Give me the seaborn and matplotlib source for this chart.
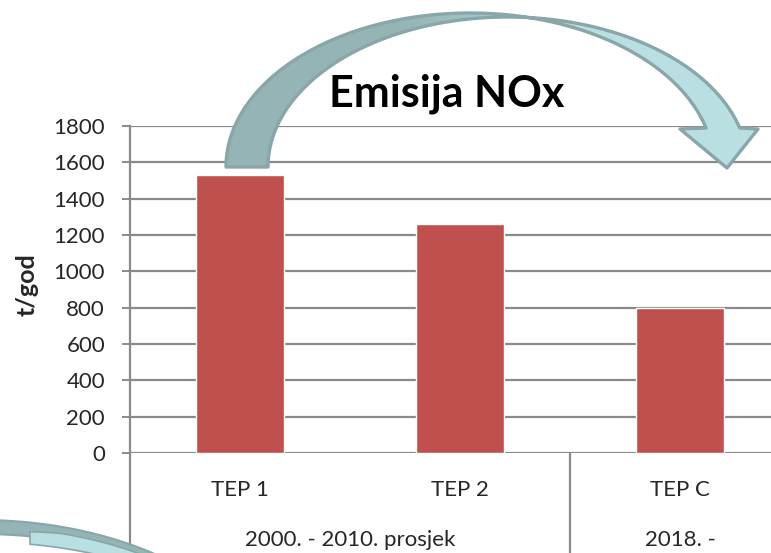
import numpy as np
import pandas as pd
import matplotlib
matplotlib.use("Agg")
import matplotlib.pyplot as plt
import seaborn as sns
from matplotlib.patches import Polygon
from matplotlib.colors import LinearSegmentedColormap

# --- podaci ---
kategorije = ["TEP 1", "TEP 2", "TEP C"]
grupe = ["2000. - 2010. prosjek", "2000. - 2010. prosjek", "2018. -"]
emisija = [1530, 1260, 800]
naslov = "Emisija NOx"
y_oznaka = "t/god"
y_tickovi = [0, 200, 400, 600, 800, 1000, 1200, 1400, 1600, 1800]

df = pd.DataFrame({"kategorija": kategorije, "grupa": grupe, "emisija": emisija})

sns.set_style("white")
plt.rcParams["font.family"] = ["Lato", "DejaVu Sans"]

W, H = 771, 553
fig = plt.figure(figsize=(W / 100, H / 100), dpi=100)
# os od x=130 do x=790 px (desni kraj izlazi iz slike), y od 126 do 453 px
ax = fig.add_axes([130 / W, (H - 453) / H, 660 / W, 327 / H])

sns.barplot(data=df, x="kategorija", y="emisija", color="#C0504D",
            width=0.4, saturation=1, ax=ax, zorder=3)
ax.set_xlim(-0.5, 2.5)
ax.set_ylim(0, 1800)
ax.set_yticks(y_tickovi)
ax.set_yticklabels([str(v) for v in y_tickovi], fontsize=16)
ax.yaxis.grid(True, color="#8a8a8a", linewidth=1.6, zorder=0)
ax.set_axisbelow(True)
for s in ["top", "right", "bottom"]:
    ax.spines[s].set_visible(False)
ax.spines["left"].set_color("#8a8a8a")
ax.spines["left"].set_linewidth(1.6)
ax.tick_params(axis="y", length=6, width=1.4, color="#8a8a8a", left=True, pad=12)
ax.tick_params(axis="x", length=0, labelbottom=False)
ax.set_xlabel("")
ax.set_ylabel("")
fig.text(27 / W, 1 - 285 / H, y_oznaka, rotation=90, ha="center", va="center",
         fontsize=18, fontweight="bold")

# --- kategorije (prva i druga razina) ---
trans = ax.get_xaxis_transform()
for i, k in enumerate(kategorije):
    ax.annotate(k, xy=(i, 0), xycoords=trans, xytext=(0, -43),
                textcoords="offset pixels", ha="center", va="baseline",
                fontsize=16)
granice = [-0.5]
for i in range(1, len(grupe)):
    if grupe[i] != grupe[i - 1]:
        granice.append(i - 0.5)
granice.append(len(grupe) - 0.5)
for g in granice:
    ax.plot([g, g], [0, -0.35], transform=trans, color="#8a8a8a",
            linewidth=1.6, clip_on=False, zorder=1)
for a, b in zip(granice[:-1], granice[1:]):
    sred = (a + b) / 2
    ax.annotate(grupe[int(a + 0.5)], xy=(sred, 0), xycoords=trans,
                xytext=(0, -93), textcoords="offset pixels",
                ha="center", va="baseline", fontsize=16)

# --- ukrasne zakrivljene strelice (u pikselima slike) ---
ov = fig.add_axes([0, 0, 1, 1], zorder=5)
ov.set_xlim(0, W)
ov.set_ylim(H, 0)
ov.axis("off")
ov.patch.set_alpha(0)

cy = 167
cx1, a1, b1 = 470, 244, 154
cx2, a2, b2 = 508, 240, 150
t1 = np.arcsin((cy - 128) / b1)
t2 = np.arcsin((cy - 128) / b2)
tt1 = np.linspace(np.pi, t1, 120)
tt2 = np.linspace(t2, np.pi, 120)
p1 = np.column_stack([cx1 + a1 * np.cos(tt1), cy - b1 * np.sin(tt1)])
p2 = np.column_stack([cx2 + a2 * np.cos(tt2), cy - b2 * np.sin(tt2)])
glava = np.array([[680, 129], [727, 168], [758, 129]])
pts = np.vstack([p1, glava, p2])

cmap = LinearSegmentedColormap.from_list("strelica", ["#95b4b5", "#95b4b5", "#b9dfe2", "#b9dfe2"])
grad = np.tile(np.linspace(0, 1, 256), (2, 1))
img = ov.imshow(grad, extent=[226, 760, 170, 10], cmap=cmap, aspect="auto",
                vmin=0, vmax=1, zorder=1)
img.set_clip_path(Polygon(pts, closed=True, transform=ov.transData))
ov.add_patch(Polygon(pts, closed=True, facecolor="none", edgecolor="#89a6a8",
                     linewidth=2.4, joinstyle="round", zorder=2))

# donja lijeva strelica (djelomicno vidljiva)
cxb, cyb = -20, 702
xs = np.linspace(-10, 230, 80)
def luk(a, b, x):
    return cyb - b * np.sqrt(np.clip(1 - ((x - cxb) / a) ** 2, 0, 1))
vanj = np.column_stack([xs, luk(300, 182, xs)])
unut = np.column_stack([xs[::-1], luk(300, 168, xs[::-1])])
ov.add_patch(Polygon(np.vstack([vanj, unut]), closed=True, facecolor="#95b4b5",
                     edgecolor="#89a6a8", linewidth=1.5, zorder=1))
xs2 = np.linspace(30, 230, 60)
sv = np.column_stack([xs2, luk(300, 175, xs2) + np.clip((60 - xs2) * 0.08, 0, None)])
su = np.column_stack([xs2[::-1], luk(300, 160, xs2[::-1])])
ov.add_patch(Polygon(np.vstack([sv, su]), closed=True, facecolor="#b9dfe2",
                     edgecolor="#89a6a8", linewidth=1.2, zorder=1))

ov.text(447, 106, naslov, ha="center", va="baseline", fontsize=31,
        fontweight="bold", color="black", zorder=3)

fig.savefig("out.png", dpi=100)
